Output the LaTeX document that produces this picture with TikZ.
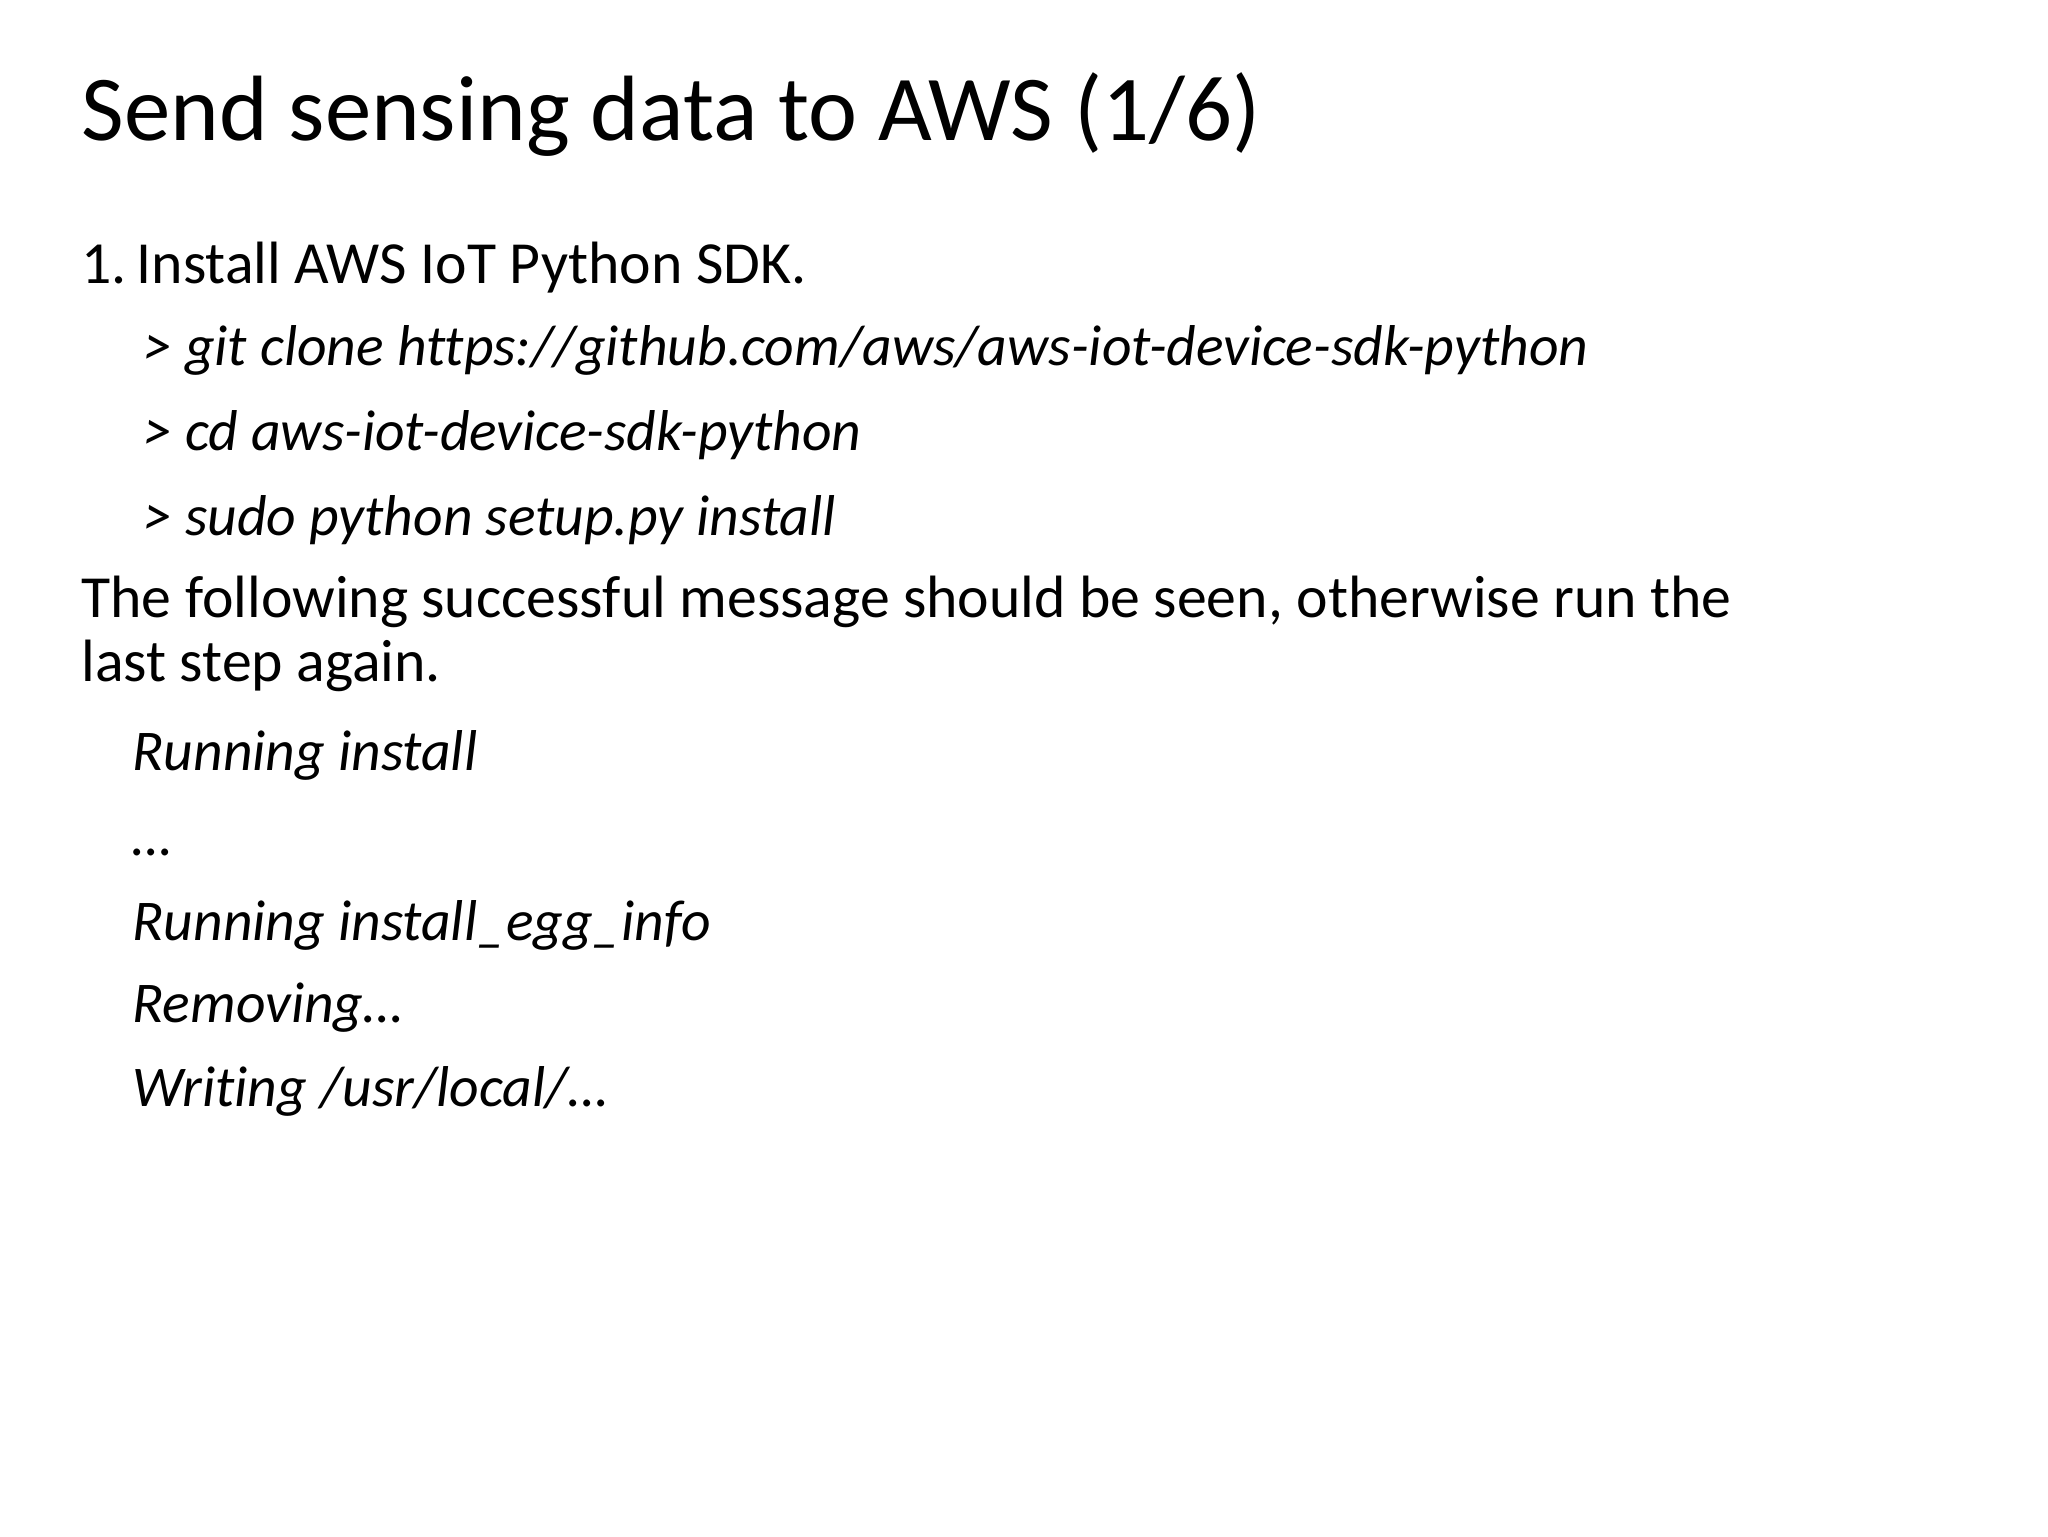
\documentclass[tikz,border=0pt]{standalone}
\usepackage{fontspec}
\setmainfont[Ligatures={NoCommon,NoRare,NoDiscretionary}]{Carlito}
\begin{document}
\begin{tikzpicture}[x=1pt,y=-1pt,
  body/.style={anchor=base west,inner sep=0pt,font=\fontsize{28}{34}\selectfont},
  cmd/.style={body,font=\fontsize{27}{32}\selectfont\itshape}]
\useasboundingbox (0,0) rectangle (960,720);
\node[anchor=base west,inner sep=0pt,font=\fontsize{43.5}{52}\selectfont] (title) at (38,66) {Send sensing data to AWS (1/6)};
\node[body] (s1) at (38,132.8) {1.\,Install AWS IoT Python SDK.};
\node[cmd] (c1) at (67,171.4) {> git clone https://github.com/aws/aws-iot-device-sdk-python};
\node[cmd] (c2) at (67,211.2) {> cd aws-iot-device-sdk-python};
\node[cmd] (c3) at (67,251) {> sudo python setup.py install};
\node[body] (p1) at (38,289.6) {The following successful message should be seen, otherwise run the};
\node[body] (p2) at (38,319.6) {last step again.};
\node[cmd] (o1) at (62,361.2) {Running install};
\node[cmd] (o2) at (62,401) {…};
\node[cmd] (o3) at (62,440.8) {Running install\_egg\_info};
\node[cmd] (o4) at (62,479.4) {Removing…};
\node[cmd] (o5) at (62,518.5) {Writing /usr/local/…};
\end{tikzpicture}
\end{document}
